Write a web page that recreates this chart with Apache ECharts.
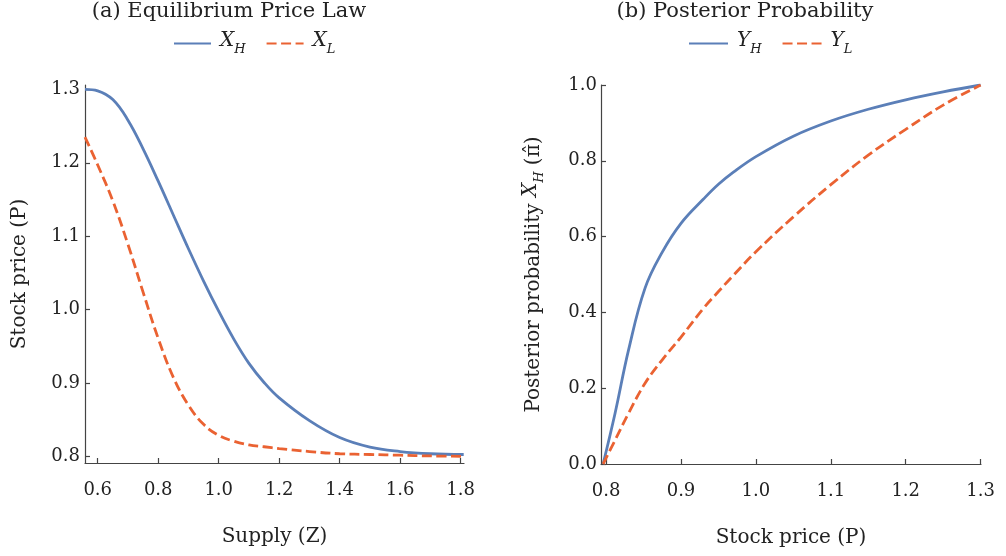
<!DOCTYPE html>
<html>
<head>
<meta charset="utf-8">
<script src="https://cdn.jsdelivr.net/npm/echarts@6/dist/echarts.min.js"></script>
<style>
  html, body { margin: 0; padding: 0; background: #fff; }
  #chart { width: 1006px; height: 556px; }
</style>
</head>
<body>
<div id="chart"></div>
<script>
// (a) equilibrium price law: supply Z vs stock price P
const supplyZ = [0.558, 0.6, 0.65, 0.7, 0.75, 0.8, 0.85, 0.9, 0.95, 1.0, 1.05, 1.1, 1.15, 1.2, 1.3, 1.4, 1.5, 1.6, 1.7, 1.81]
const priceXH = [1.300, 1.298, 1.286, 1.258, 1.219, 1.175, 1.129, 1.083, 1.039, 0.998, 0.960, 0.927, 0.901, 0.880, 0.849, 0.826, 0.813, 0.807, 0.804, 0.803]
const priceXL = [1.235, 1.197, 1.148, 1.089, 1.024, 0.961, 0.908, 0.870, 0.844, 0.829, 0.821, 0.816, 0.8135, 0.811, 0.807, 0.804, 0.803, 0.802, 0.801, 0.8005]

// (b) posterior probability vs stock price P
const priceP = [0.796, 0.812, 0.83, 0.852, 0.875, 0.9, 0.93, 0.95, 0.97, 1.0, 1.05, 1.1, 1.15, 1.2, 1.25, 1.3]
const probYH = [0, 0.134, 0.301, 0.464, 0.559, 0.635, 0.699, 0.738, 0.770, 0.811, 0.865, 0.905, 0.936, 0.961, 0.982, 1.0]
const probYL = [0, 0.063, 0.134, 0.213, 0.275, 0.335, 0.411, 0.455, 0.498, 0.560, 0.652, 0.737, 0.815, 0.883, 0.947, 1.0]

// tick labels
const ticksZ = [0.6, 0.8, 1.0, 1.2, 1.4, 1.6, 1.8]
const ticksPriceLeft = [0.8, 0.9, 1.0, 1.1, 1.2, 1.3]
const ticksPriceBottom = [0.8, 0.9, 1.0, 1.1, 1.2, 1.3]
const ticksProb = [0.0, 0.2, 0.4, 0.6, 0.8, 1.0]

const FONT = 'DejaVu Serif'
const TEXT = '#222'
const AXIS = '#444'
const BLUE = '#5b7fb8'
const ORANGE = '#ea6232'

const rich = {
  n: { fontFamily: FONT, fontSize: 20, color: TEXT },
  i: { fontFamily: FONT, fontSize: 20, fontStyle: 'italic', color: TEXT, verticalAlign: 'bottom', padding: [0, 0, 5, 0] },
  s: { fontFamily: FONT, fontSize: 13, fontStyle: 'italic', color: TEXT, verticalAlign: 'bottom' }
}
const legendNames = { XH: '{i|X}{s|H}', XL: '{i|X}{s|L}', YH: '{i|Y}{s|H}', YL: '{i|Y}{s|L}' }

function pairs(xs, ys) {
  return xs.map((x, k) => [x, ys[k]])
}

function axisBase(ticks, margin) {
  return {
    type: 'value',
    axisLine: { show: true, lineStyle: { color: AXIS, width: 1.2 } },
    axisTick: { show: true, inside: true, length: 5, customValues: ticks, lineStyle: { color: AXIS, width: 1.2 } },
    axisLabel: {
      customValues: ticks,
      margin: margin,
      fontFamily: FONT, fontSize: 18, color: TEXT,
      formatter: v => v.toFixed(1)
    },
    splitLine: { show: false },
    nameLocation: 'middle',
    nameTextStyle: { fontFamily: FONT, fontSize: 20, color: TEXT, rich: rich }
  }
}

function lineSeries(name, xIdx, data, color, dashed) {
  return {
    name: name,
    type: 'line',
    xAxisIndex: xIdx,
    yAxisIndex: xIdx,
    data: data,
    symbol: 'none',
    smooth: 0.4,
    lineStyle: { color: color, width: 2.8, type: dashed ? [10, 4.5] : 'solid' },
    itemStyle: { color: color },
    z: dashed ? 3 : 2
  }
}

const legendBase = {
  itemHeight: 14, itemGap: 20, top: 26,
  itemStyle: { opacity: 0, borderWidth: 0 },
  formatter: n => legendNames[n],
  textStyle: { rich: rich, padding: [0, 0, 0, 4] }
}

const chart = echarts.init(document.getElementById('chart'))
const option = {
  animation: false,
  backgroundColor: '#fff',
  title: [
    { text: '(a) Equilibrium Price Law', left: 229, top: 1, padding: 0, textAlign: 'center',
      textStyle: { fontFamily: FONT, fontSize: 21, fontWeight: 'normal', color: TEXT } },
    { text: '(b) Posterior Probability', left: 745, top: 1, padding: 0, textAlign: 'center',
      textStyle: { fontFamily: FONT, fontSize: 21, fontWeight: 'normal', color: TEXT } }
  ],
  legend: [
    Object.assign({ data: ['XH', 'XL'], left: 168, itemWidth: 37 }, legendBase),
    Object.assign({ data: ['YH', 'YL'], left: 683, itemWidth: 39 }, legendBase)
  ],
  grid: [
    { left: 85, top: 85, width: 379, height: 378, outerBoundsMode: 'none' },
    { left: 601, top: 85, width: 380, height: 379, outerBoundsMode: 'none' }
  ],
  xAxis: [
    Object.assign(axisBase(ticksZ, 18), { gridIndex: 0, min: 0.558, max: 1.811, name: 'Supply (Z)', nameGap: 64 }),
    Object.assign(axisBase(ticksPriceBottom, 18), { gridIndex: 1, min: 0.7932, max: 1.3005, name: 'Stock price (P)', nameGap: 64 })
  ],
  yAxis: [
    Object.assign(axisBase(ticksPriceLeft, 5), { gridIndex: 0, min: 0.7914, max: 1.3059, name: 'Stock price (P)', nameGap: 55 }),
    Object.assign(axisBase(ticksProb, 4), { gridIndex: 1, min: 0, max: 1, name: '{n|Posterior probability }{i|X}{s|H}{n| (π̂)}', nameGap: 55 })
  ],
  series: [
    lineSeries('XH', 0, pairs(supplyZ, priceXH), BLUE, false),
    lineSeries('XL', 0, pairs(supplyZ, priceXL), ORANGE, true),
    lineSeries('YH', 1, pairs(priceP, probYH), BLUE, false),
    lineSeries('YL', 1, pairs(priceP, probYL), ORANGE, true)
  ]
}
chart.setOption(option)
</script>
</body>
</html>
